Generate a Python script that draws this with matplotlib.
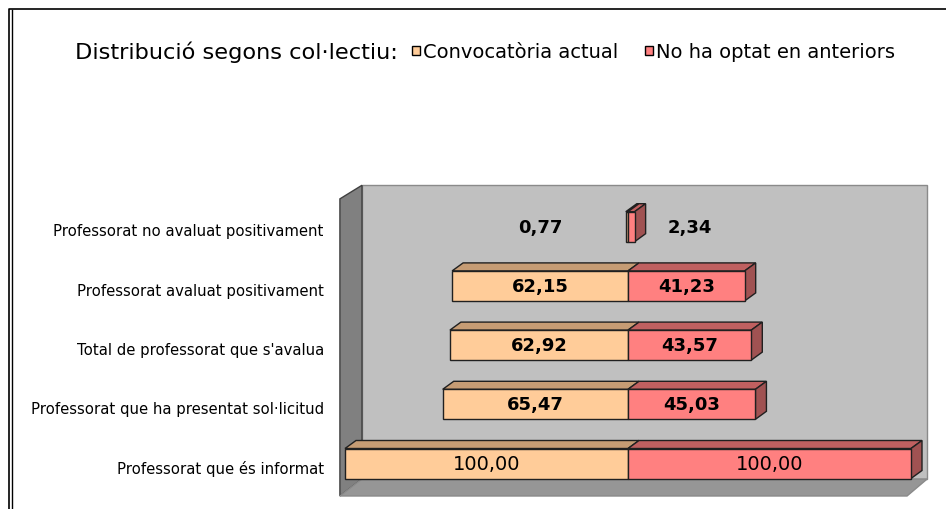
import matplotlib
matplotlib.use("Agg")
import matplotlib.pyplot as plt
from matplotlib.patches import Polygon, Rectangle
from matplotlib.lines import Line2D

# data
categories = [
    "Professorat que és informat",
    "Professorat que ha presentat sol·licitud",
    "Total de professorat que s'avalua",
    "Professorat avaluat positivament",
    "Professorat no avaluat positivament",
]
convocatoria = [100.00, 65.47, 62.92, 62.15, 0.77]
no_optat = [100.00, 45.03, 43.57, 41.23, 2.34]
series_names = ["Convocatòria actual", "No ha optat en anteriors"]

W, H = 946, 510
PX_PER_UNIT = 2.83      # horizontal pixels per value unit
X0_PX = 628             # pixel column of value 0
ROW_PX = 59.2           # pixel distance between rows
ROW0_PX = 45.5          # pixel height (from bottom) of first row centre

plt.rcParams["font.family"] = ["DejaVu Sans"]

fig = plt.figure(figsize=(W / 100, H / 100), dpi=100)
ax = fig.add_axes([0, 0, 1, 1])
ax.set_xlim(-X0_PX / PX_PER_UNIT, (W - X0_PX) / PX_PER_UNIT)
ax.set_ylim(-ROW0_PX / ROW_PX, (H - ROW0_PX) / ROW_PX)
ax.axis("off")

# depth offsets for the fake 3D look (in data units)
DX = 11 / PX_PER_UNIT
DY = 8 / ROW_PX
BAR_H = 30 / ROW_PX

# walls
wx_front, wx_back, wx_right, wx_floor_r = -101.8, -94.0, 105.7, 98.6
wy_top_back, wy_top_front, wy_bot_back, wy_bot_front = 4.70, 4.47, -0.262, -0.549
ax.add_patch(Polygon([(wx_back, wy_bot_back), (wx_right, wy_bot_back),
                      (wx_right, wy_top_back), (wx_back, wy_top_back)],
                     closed=True, fc="#c0c0c0", ec="#8a8a8a", lw=1, zorder=1))
ax.add_patch(Polygon([(wx_front, wy_bot_front), (wx_back, wy_bot_back),
                      (wx_back, wy_top_back), (wx_front, wy_top_front)],
                     closed=True, fc="#808080", ec="#404040", lw=1, zorder=2))
ax.add_patch(Polygon([(wx_front, wy_bot_front), (wx_floor_r, wy_bot_front),
                      (wx_right, wy_bot_back), (wx_back, wy_bot_back)],
                     closed=True, fc="#969696", ec="#8a8a8a", lw=1, zorder=2))


def bar3d(x0, x1, yc, front, top, side=None):
    yb, yt = yc - BAR_H / 2, yc + BAR_H / 2
    ax.add_patch(Polygon([(x0, yt), (x1, yt), (x1 + DX, yt + DY), (x0 + DX, yt + DY)],
                         closed=True, fc=top, ec="#202020", lw=1, zorder=3))
    if side is not None:
        ax.add_patch(Polygon([(x1, yb), (x1 + DX, yb + DY), (x1 + DX, yt + DY), (x1, yt)],
                             closed=True, fc=side, ec="#202020", lw=1, zorder=3))
    ax.add_patch(Rectangle((x0, yb), x1 - x0, BAR_H, fc=front, ec="#202020",
                           lw=1, zorder=4))


for i, (a, b) in enumerate(zip(convocatoria, no_optat)):
    bar3d(-a, 0, i, "#ffcc99", "#c69c74")
    bar3d(0, b, i, "#ff8080", "#c06060", "#a05252")
    weight = "normal" if i == 0 else "bold"
    size = 14 if i == 0 else 13
    la = -a / 2 if a > 5 else -31
    lb = b / 2 if b > 5 else 22
    for xv, v in ((la, a), (lb, b)):
        ax.text(xv, i, f"{v:.2f}".replace(".", ","), ha="center", va="center",
                fontsize=size, fontweight=weight, color="black", zorder=5)
    ax.text(-107.5, i - 0.07, categories[i], ha="right", va="center", fontsize=10.7,
            color="black", zorder=5)

# title + legend line
fig.text(75 / W, 1 - 52 / H, "Distribució segons col·lectiu:", ha="left", va="center",
         fontsize=16.2)
for x_sq, col, x_txt, name in ((412, "#ffcc99", 423, series_names[0]),
                               (645, "#ff8080", 656, series_names[1])):
    fig.add_artist(Rectangle((x_sq / W, 1 - 56 / H), 8 / W, 9 / H, fc=col,
                             ec="black", lw=1, transform=fig.transFigure))
    fig.text(x_txt / W, 1 - 52 / H, name, ha="left", va="center", fontsize=14)

# outer frame
fig.add_artist(Line2D([9 / W, 9 / W, 1], [0, 1 - 10 / H, 1 - 10 / H], color="black",
                      lw=1.2, transform=fig.transFigure))
fig.add_artist(Line2D([11.5 / W, 11.5 / W], [0, 1 - 11 / H], color="black",
                      lw=1.0, transform=fig.transFigure))

fig.savefig("out.png", dpi=100)
